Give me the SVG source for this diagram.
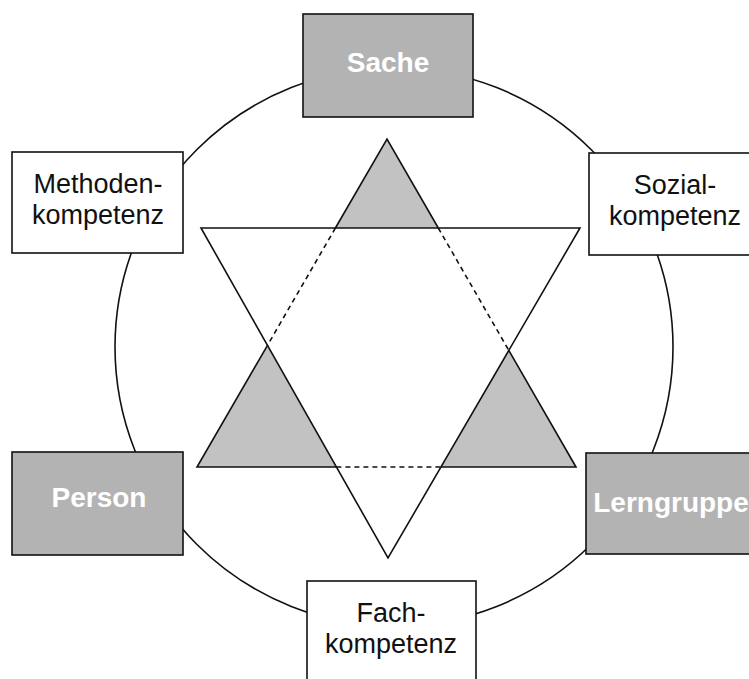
<svg xmlns="http://www.w3.org/2000/svg" width="749" height="679" viewBox="0 0 749 679">
  <style>
    .ring { fill: none; stroke: #111; stroke-width: 1.6; }
    .box-white { fill: #ffffff; stroke: #111; stroke-width: 1.6; }
    .box-gray { fill: #b3b3b3; stroke: #111; stroke-width: 1.6; }
    .tri-fill { fill: #c2c2c2; stroke: none; }
    .solid { fill: none; stroke: #111; stroke-width: 1.6; stroke-linejoin: miter; }
    .dashed { fill: none; stroke: #111; stroke-width: 1.6; stroke-dasharray: 5 4; }
    .lbl { font-family: "Liberation Sans", Arial, sans-serif; font-size: 27px; fill: #111; text-anchor: middle; }
    .lbl-gray { font-family: "Liberation Sans", Arial, sans-serif; font-size: 28px; font-weight: bold; fill: #ffffff; text-anchor: middle; }
  </style>
  <rect x="0" y="0" width="749" height="679" fill="#ffffff"/>

  <g id="connectors">
    <circle class="ring" cx="394" cy="347" r="279"/>
  </g>

  <g id="star">
    <polygon class="tri-fill" points="387,139 335.4,228 438.3,228"/>
    <polygon class="tri-fill" points="267.5,345.3 197,467 336.4,467"/>
    <polygon class="tri-fill" points="508.8,350.4 440.9,467 576,467"/>
    <polygon class="solid" points="201,228 580,228 388,558"/>
    <polyline class="solid" points="335.4,228 387,139 438.3,228"/>
    <polyline class="solid" points="267.5,345.3 197,467 336.4,467"/>
    <polyline class="solid" points="440.9,467 576,467 508.8,350.4"/>
    <line class="dashed" x1="335.4" y1="228" x2="267.5" y2="345.3"/>
    <line class="dashed" x1="438.3" y1="228" x2="508.8" y2="350.4"/>
    <line class="dashed" x1="336.4" y1="467" x2="440.9" y2="467"/>
  </g>

  <g id="node-sache">
    <rect class="box-gray" x="303" y="14" width="170" height="103"/>
    <text class="lbl-gray" x="388" y="72">Sache</text>
  </g>

  <g id="node-methodenkompetenz">
    <rect class="box-white" x="12" y="152" width="171" height="101"/>
    <text class="lbl" x="98" y="193">Methoden-</text>
    <text class="lbl" x="98" y="224">kompetenz</text>
  </g>

  <g id="node-sozialkompetenz">
    <rect class="box-white" x="589" y="153" width="171" height="102"/>
    <text class="lbl" x="675" y="194">Sozial-</text>
    <text class="lbl" x="675" y="225">kompetenz</text>
  </g>

  <g id="node-person">
    <rect class="box-gray" x="12" y="452" width="171" height="103"/>
    <text class="lbl-gray" x="99" y="507">Person</text>
  </g>

  <g id="node-lerngruppe">
    <rect class="box-gray" x="586" y="453" width="171" height="101"/>
    <text class="lbl-gray" x="671" y="512">Lerngruppe</text>
  </g>

  <g id="node-fachkompetenz">
    <rect class="box-white" x="307" y="581" width="169" height="103"/>
    <text class="lbl" x="391" y="622">Fach-</text>
    <text class="lbl" x="391" y="653">kompetenz</text>
  </g>
</svg>
